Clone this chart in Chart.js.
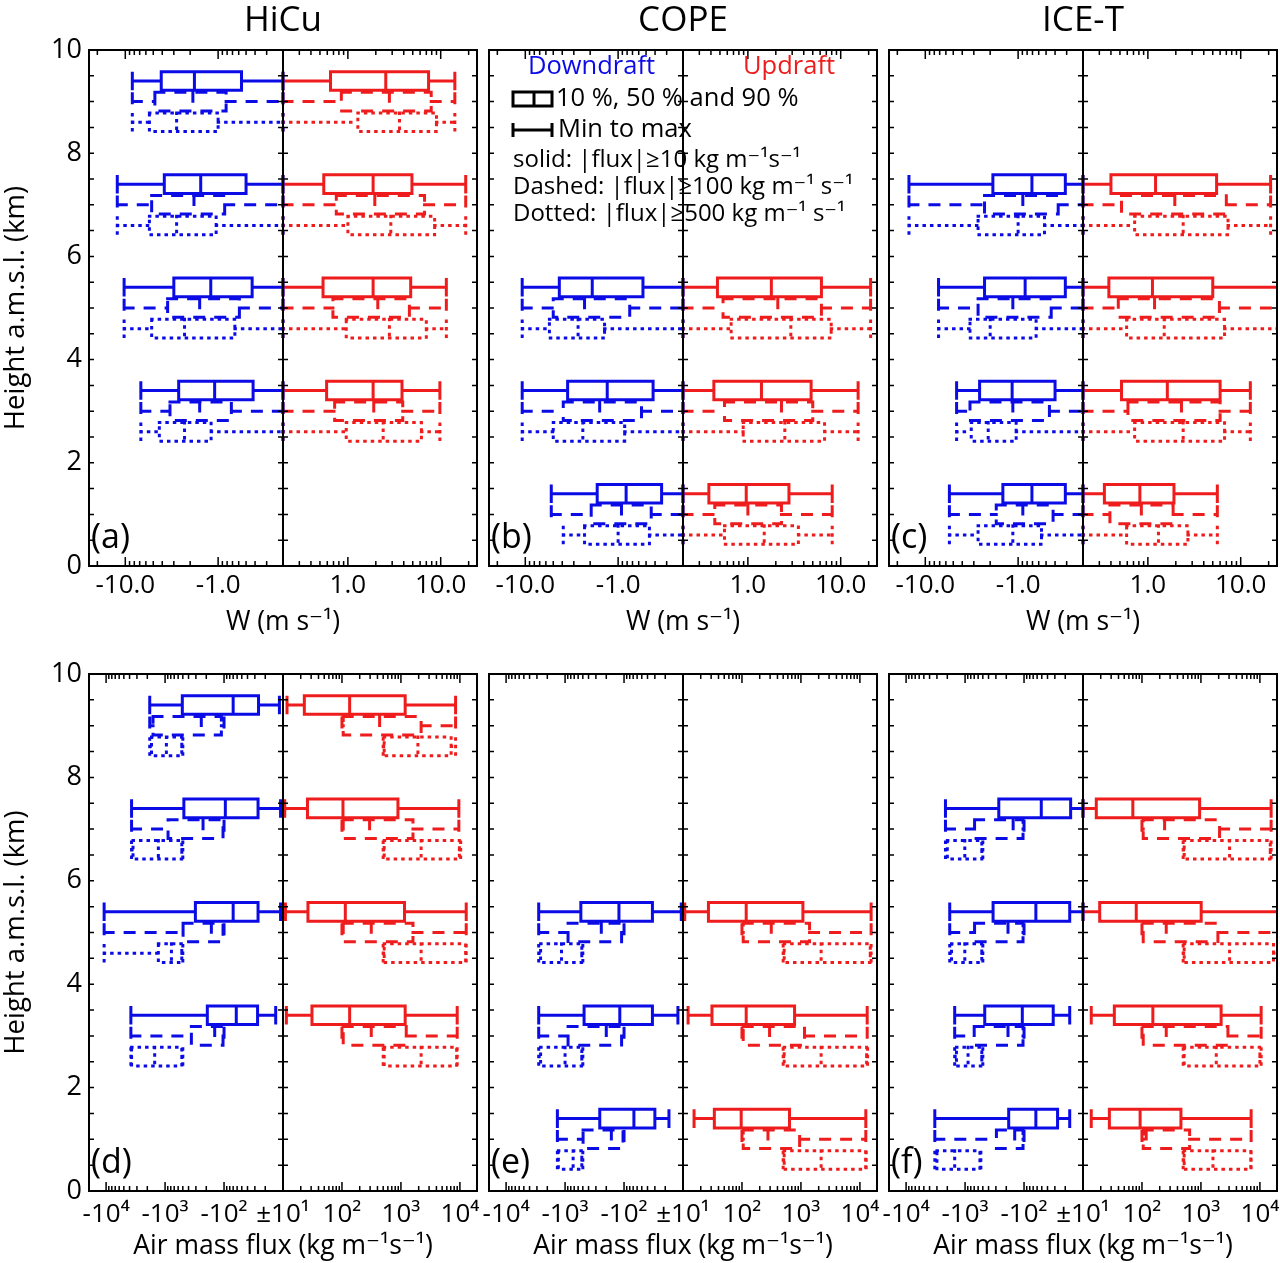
<!DOCTYPE html>
<html><head><meta charset="utf-8">
<script src="https://cdn.jsdelivr.net/npm/chart.js@4.4.1/dist/chart.umd.min.js"></script>
<style>
html,body{margin:0;padding:0;background:#fff;overflow:hidden}
#wrap{position:relative;width:1280px;height:1263px;overflow:hidden;background:#fff}
canvas{position:absolute}
</style></head><body><div id="wrap"></div>
<script>
// ---------------- DATA ----------------
const panelTitles = ['HiCu', 'COPE', 'ICE-T'];
const panelLetters = ['(a)', '(b)', '(c)', '(d)', '(e)', '(f)'];
const wTickValues = [-10, -1, 1, 10];
const wTickLabels = ['-10.0', '-1.0', '1.0', '10.0'];
const fluxTickValues = [-10000, -1000, -100, 10, 100, 1000, 10000];
const fluxTickLabels = ['-10⁴', '-10³', '-10²', '±10¹', '10²', '10³', '10⁴'];

const hicuLevels = [9, 7, 5, 3];
const copeLevels = [5, 3, 1];
const icetLevels = [7, 5, 3, 1];

// each row: [min, 10 %, 50 %, 90 %, max] for one level (W in m s-1)
const hicuW_dn_solid  = [[-8.4,-4.1,-1.8,-0.56,-0.2],[-12.2,-3.8,-1.54,-0.5,-0.2],[-10.3,-3.0,-1.2,-0.43,-0.2],[-6.8,-2.66,-1.09,-0.42,-0.2]];
const hicuW_up_solid  = [[0.2,0.65,2.56,7.4,14.2],[0.2,0.55,1.87,4.9,18.6],[0.2,0.54,1.87,4.75,11.5],[0.2,0.59,1.87,3.83,9.8]];
const hicuW_dn_dashed = [[-8.4,-4.8,-1.87,-0.82,-0.2],[-12.2,-5.2,-1.82,-0.85,-0.2],[-10.3,-3.5,-1.58,-0.59,-0.2],[-6.8,-3.3,-1.58,-0.72,-0.2]];
const hicuW_up_dashed = [[0.2,0.85,2.8,7.9,14.2],[0.2,0.75,1.95,6.7,18.6],[0.2,0.69,2.1,4.6,11.5],[0.2,0.72,1.9,3.9,9.8]];
const hicuW_dn_dotted = [[-8.4,-5.5,-2.8,-1.0,-0.2],[-12.2,-5.5,-2.8,-1.05,-0.2],[-10.3,-5.2,-2.3,-0.66,-0.2],[-6.8,-4.3,-2.3,-1.19,-0.2]];
const hicuW_up_dotted = [[0.2,1.28,3.6,9.0,14.2],[0.2,1.0,2.9,8.6,18.6],[0.2,0.96,2.8,7.0,11.5],[0.2,0.96,2.4,6.2,9.8]];

const copeW_dn_solid  = [[-10.8,-4.3,-1.9,-0.54,-0.2],[-10.8,-3.5,-1.31,-0.42,-0.2],[-5.25,-1.68,-0.82,-0.34,-0.2]];
const copeW_up_solid  = [[0.2,0.47,1.79,6.2,21],[0.2,0.43,1.4,4.8,15.4],[0.2,0.38,0.96,2.77,8.1]];
const copeW_dn_dashed = [[-10.8,-5.0,-2.3,-0.75,-0.2],[-10.8,-3.9,-1.58,-0.56,-0.2],[-5.25,-1.95,-0.92,-0.44,-0.2]];
const copeW_up_dashed = [[0.2,0.54,2.1,6.2,21],[0.2,0.56,2.3,5.0,15.4],[0.2,0.44,1.0,2.3,8.1]];
const copeW_dn_dotted = [[-10.8,-5.5,-2.7,-1.4,-0.2],[-10.8,-5.0,-2.4,-0.85,-0.2],[-3.9,-2.3,-1.0,-0.46,-0.2]];
const copeW_up_dotted = [[0.2,0.66,2.9,7.9,21],[0.2,0.89,2.5,6.7,15.4],[0.2,0.56,1.5,3.5,8.1]];

const icetW_dn_solid  = [[-15,-1.87,-0.71,-0.31,-0.2],[-7.2,-2.3,-0.84,-0.31,-0.2],[-4.6,-2.6,-1.16,-0.4,-0.2],[-5.5,-1.46,-0.71,-0.31,-0.2]];
const icetW_up_solid  = [[0.2,0.4,1.21,5.5,21],[0.2,0.38,1.12,5.0,26],[0.2,0.52,1.62,6.0,12.7],[0.2,0.34,0.82,1.91,5.6]];
const icetW_dn_dashed = [[-15,-2.3,-0.89,-0.37,-0.2],[-7.2,-2.7,-1.14,-0.44,-0.2],[-4.6,-3.3,-1.14,-0.46,-0.2],[-5.5,-1.72,-0.89,-0.42,-0.2]];
const icetW_up_dashed = [[0.2,0.52,1.95,7.0,21],[0.2,0.48,1.18,5.9,26],[0.2,0.61,2.3,6.0,12.7],[0.2,0.39,0.85,1.87,5.6]];
const icetW_dn_dotted = [[-15,-2.7,-1.0,-0.52,-0.2],[-7.2,-3.3,-2.0,-0.64,-0.2],[-4.6,-3.2,-2.1,-1.05,-0.2],[-5.5,-2.7,-1.14,-0.56,-0.2]];
const icetW_up_dotted = [[0.2,0.72,2.4,7.3,21],[0.2,0.59,1.5,6.7,26],[0.2,0.72,2.4,6.7,12.7],[0.2,0.59,1.3,2.7,5.6]];

// air mass flux in kg m-1 s-1
const hicuF_dn_solid  = [[-1820,-510,-70,-26,-11.5],[-3700,-480,-95,-26.5,-11],[-10800,-306,-70,-26.5,-11],[-3800,-192,-62,-27,-13.3]];
const hicuF_up_solid  = [[11.7,23,135,1180,8450],[10.7,26,104,890,9600],[11,26.5,114,1150,12800],[11.4,31,135,1180,9000]];
const hicuF_dn_dashed = [[-1820,-1600,-243,-111,-100],[-3700,-890,-227,-104,-100],[-10800,-495,-164,-104,-100],[-3800,-358,-144,-104,-100]];
const hicuF_up_dashed = [[100,105,435,2200,8450],[100,105,294,1600,9600],[100,105,314,1600,12800],[100,105,314,1230,9000]];
const hicuF_dn_dotted = [[-1820,-1700,-950,-520,-500],[-3700,-3500,-1300,-520,-500],[-10800,-1300,-780,-520,-500],[-3800,-3700,-1500,-520,-500]];
const hicuF_up_dotted = [[500,520,1940,7100,8450],[500,520,2200,9800,10300],[500,520,2200,12500,12800],[500,520,2200,8800,9000]];

const copeF_dn_solid  = [[-2800,-540,-122,-33,-10.7],[-2800,-476,-118,-33,-12.2],[-1350,-258,-68,-30,-17.3]];
const copeF_up_solid  = [[10.7,27,118,1080,15500],[12.2,31,118,780,13300],[15.4,34,97,640,12600]];
const copeF_dn_dashed = [[-2800,-890,-243,-110,-100],[-2800,-890,-200,-110,-100],[-1350,-495,-164,-104,-100]];
const copeF_up_dashed = [[100,105,314,1400,15500],[100,105,294,1150,13300],[100,105,276,950,12600]];
const copeF_dn_dotted = [[-2800,-2600,-1150,-520,-500],[-2800,-2600,-1000,-520,-500],[-1350,-1300,-730,-520,-500]];
const copeF_up_dotted = [[500,520,2200,15000,15500],[500,520,2200,13000,13500],[500,520,2200,12500,12800]];

const icetF_dn_solid  = [[-2150,-268,-51,-16.2,-10],[-1820,-335,-63,-16.8,-10],[-1500,-464,-107,-32,-16.8],[-3260,-182,-63,-27,-16.8]];
const icetF_up_solid  = [[10,16.8,70,950,15500],[10,19.2,80,1010,22000],[13.8,34,153,2200,10500],[13.8,28,93,458,7100]];
const icetF_dn_dashed = [[-2150,-690,-153,-104,-100],[-1820,-690,-187,-104,-100],[-1500,-700,-187,-104,-100],[-3260,-294,-144,-104,-100]];
const icetF_up_dashed = [[100,105,242,2070,15500],[100,105,258,1940,22000],[100,105,258,2870,10500],[100,105,118,643,7100]];
const icetF_dn_dotted = [[-2150,-2000,-1010,-520,-500],[-1820,-1700,-1010,-520,-500],[-1500,-1400,-890,-520,-500],[-3260,-3000,-1500,-560,-540]];
const icetF_up_dotted = [[500,520,3060,15000,15500],[500,520,3060,17000,22000],[500,520,1820,10000,10500],[500,520,1600,7000,7100]];

// ---------------- RENDERING ----------------
Chart.defaults.font.family = '"Open Sans", "DejaVu Sans", sans-serif';
Chart.defaults.color = '#000';

const DOWN_COLOR = '#0b0be6', UP_COLOR = '#ee1c1c';
const W_CUT = 0.2, W_SPAN = 2.09, F_CUT = 10, F_SPAN = 3.29;
const BOX_HALF = 0.18, CAP_HALF = 0.15;
const OFFSETS = { solid: 0.4, dashed: 0, dotted: -0.4 };
const DASHES = { solid: [], dashed: [9, 12], dotted: [0.5, 7] };
const FONT = '"Open Sans", "DejaVu Sans", sans-serif';

const symlog = cut => v => Math.sign(v) * Math.max(0, Math.log10(Math.abs(v) / cut));
const tW = symlog(W_CUT), tF = symlog(F_CUT);

function logTicks(tf, span, decades) {
  const major = [], minor = [];
  decades.forEach(n => {
    for (let k = 1; k <= 9; k++) {
      const t = tf(k * Math.pow(10, n));
      if (t > 0.02 && t < span) (k === 1 ? major : minor).push(t);
    }
  });
  return { major, minor };
}
const wMinorTicks = logTicks(tW, W_SPAN, [-1, 0, 1]);
const fMinorTicks = logTicks(tF, F_SPAN, [1, 2, 3, 4]);

function boxPoints(levels, stats, off, tf) {
  const pts = [];
  const brk = () => pts.push({ x: 0, y: null });
  levels.forEach((L, i) => {
    const s = stats[i];
    if (!s) return;
    const [mn, q1, md, q9, mx] = s.map(tf);
    const yc = L + off, yt = yc + BOX_HALF, yb = yc - BOX_HALF;
    pts.push({ x: mn, y: yc }, { x: q1, y: yc }); brk();
    pts.push({ x: q9, y: yc }, { x: mx, y: yc }); brk();
    pts.push({ x: q1, y: yt }, { x: q9, y: yt }, { x: q9, y: yb }, { x: q1, y: yb }, { x: q1, y: yt }); brk();
    pts.push({ x: md, y: yt }, { x: md, y: yb }); brk();
    pts.push({ x: mn, y: yc + CAP_HALF }, { x: mn, y: yc - CAP_HALF }); brk();
    pts.push({ x: mx, y: yc + CAP_HALF }, { x: mx, y: yc - CAP_HALF }); brk();
  });
  return pts;
}

const decor = {
  id: 'decor',
  afterDatasetsDraw(chart, args, o) {
    const { ctx, chartArea: a, scales: { x, y } } = chart;
    ctx.save();
    ctx.strokeStyle = '#000';
    ctx.lineWidth = 2;
    ctx.strokeRect(a.left, a.top, a.width, a.height);
    ctx.lineWidth = 1.5;
    ctx.beginPath();
    const x0 = x.getPixelForValue(0);
    for (let v = 0.5; v < 10; v += 0.5) {
      const py = y.getPixelForValue(v);
      ctx.moveTo(a.left, py); ctx.lineTo(a.left + 5, py);
      ctx.moveTo(a.right - 5, py); ctx.lineTo(a.right, py);
      ctx.moveTo(x0 - 5, py); ctx.lineTo(x0 + 5, py);
    }
    const tk = (t, len) => [t, -t].forEach(s => {
      const px = x.getPixelForValue(s);
      ctx.moveTo(px, a.top); ctx.lineTo(px, a.top + len);
      ctx.moveTo(px, a.bottom); ctx.lineTo(px, a.bottom - len);
    });
    o.ticks.major.forEach(t => tk(t, 9));
    o.ticks.minor.forEach(t => tk(t, 5));
    ctx.stroke();

    ctx.fillStyle = '#000';
    ctx.font = '34px ' + FONT;
    ctx.textBaseline = 'middle';
    ctx.textAlign = 'left';
    ctx.fillText(o.letter, a.left + 2, a.bottom - 28);

    if (o.legend) {
      const lx = a.left, ty = a.top;
      ctx.font = '25.5px ' + FONT;
      ctx.fillStyle = DOWN_COLOR; ctx.fillText('Downdraft', lx + 39, ty + 17);
      ctx.fillStyle = UP_COLOR; ctx.fillText('Updraft', lx + 254, ty + 17);
      ctx.fillStyle = '#000';
      ctx.lineWidth = 3;
      ctx.strokeRect(lx + 24, ty + 42, 39, 14);
      ctx.beginPath(); ctx.moveTo(lx + 45, ty + 42); ctx.lineTo(lx + 45, ty + 56); ctx.stroke();
      ctx.fillText('10 %, 50 % and 90 %', lx + 67, ty + 49);
      ctx.beginPath();
      ctx.moveTo(lx + 23, ty + 80); ctx.lineTo(lx + 64, ty + 80);
      ctx.moveTo(lx + 24, ty + 73); ctx.lineTo(lx + 24, ty + 87);
      ctx.moveTo(lx + 63, ty + 73); ctx.lineTo(lx + 63, ty + 87);
      ctx.stroke();
      ctx.fillText('Min to max', lx + 69, ty + 80);
      ctx.font = '24px ' + FONT;
      ctx.fillText('solid: |flux|≥10 kg m⁻¹s⁻¹', lx + 24, ty + 110);
      ctx.fillText('Dashed: |flux|≥100 kg m⁻¹ s⁻¹', lx + 24, ty + 137);
      ctx.fillText('Dotted: |flux|≥500 kg m⁻¹ s⁻¹', lx + 24, ty + 164);
    }
    ctx.restore();
  }
};

const wrap = document.getElementById('wrap');
function addCanvas(left, top, w, h) {
  const c = document.createElement('canvas');
  c.width = w; c.height = h;
  c.style.left = left + 'px'; c.style.top = top + 'px';
  c.style.width = w + 'px'; c.style.height = h + 'px';
  wrap.appendChild(c);
  return c;
}

function makePanel(p) {
  const canvas = addCanvas(p.left, p.top, 566, p.height);
  const datasets = [{
    data: [{ x: 0, y: 0 }, { x: 0, y: 10 }],
    borderColor: '#000', borderWidth: 2, showLine: true, pointRadius: 0
  }];
  p.sets.forEach(s => {
    datasets.push({
      data: boxPoints(p.levels, s.stats, OFFSETS[s.style], p.tf),
      borderColor: s.color, borderWidth: 3, borderDash: DASHES[s.style],
      borderCapStyle: 'square', borderJoinStyle: 'miter',
      showLine: true, pointRadius: 0, spanGaps: false, tension: 0
    });
  });
  const isTop = p.row === 'top';
  return new Chart(canvas, {
    type: 'scatter',
    data: { datasets },
    plugins: [decor],
    options: {
      responsive: false, animation: false, devicePixelRatio: 1, events: [],
      layout: { padding: { top: isTop ? 0 : 34, right: 0, bottom: 0, left: 0 } },
      plugins: {
        legend: { display: false }, tooltip: { enabled: false },
        title: { display: isTop, text: p.title, font: { size: 35, weight: 'normal' }, color: '#000', padding: { top: 0, bottom: 8 } },
        decor: { ticks: p.minorTicks, letter: p.letter, legend: !!p.legend }
      },
      scales: {
        x: {
          type: 'linear', min: -p.span, max: p.span,
          afterBuildTicks: s => { s.ticks = p.tickValues.map(v => ({ value: p.tf(v) })); },
          afterFit: s => { s.height = isTop ? 74 : 72; },
          ticks: { autoSkip: false, maxRotation: 0, minRotation: 0, padding: isTop ? 4 : 8, font: { size: 26 }, color: '#000',
                   callback: (v, i) => p.tickLabels[i] },
          grid: { display: false, drawTicks: false }, border: { display: false },
          title: { display: true, text: p.xTitle, font: { size: 26.5 }, color: '#000', padding: { top: 0, bottom: isTop ? 1.5 : 0.5 } }
        },
        y: {
          type: 'linear', min: 0, max: 10,
          afterFit: s => { s.width = 89; },
          ticks: { display: p.showY, stepSize: 2, padding: 7, font: { size: 27 }, color: '#000' },
          grid: { display: false, drawTicks: false }, border: { display: false },
          title: { display: p.showY, text: 'Height a.m.s.l. (km)', font: { size: 27.5 }, color: '#000', padding: { top: 0, bottom: 0 } }
        },
        yRight: {
          type: 'linear', position: 'right', min: 0, max: 10,
          afterFit: s => { s.width = 89; },
          ticks: { display: false }, grid: { display: false, drawTicks: false }, border: { display: false }
        }
      }
    }
  });
}

function sets(dnS, upS, dnD, upD, dnO, upO) {
  return [
    { stats: dnS, color: DOWN_COLOR, style: 'solid' }, { stats: upS, color: UP_COLOR, style: 'solid' },
    { stats: dnD, color: DOWN_COLOR, style: 'dashed' }, { stats: upD, color: UP_COLOR, style: 'dashed' },
    { stats: dnO, color: DOWN_COLOR, style: 'dotted' }, { stats: upO, color: UP_COLOR, style: 'dotted' }
  ];
}

const colLefts = [0, 400, 800];
const wCommon = { row: 'top', top: 0, height: 640, tf: tW, span: W_SPAN, tickValues: wTickValues, tickLabels: wTickLabels, minorTicks: wMinorTicks, xTitle: 'W (m s⁻¹)' };
const fCommon = { row: 'bottom', top: 640, height: 623, tf: tF, span: F_SPAN, tickValues: fluxTickValues, tickLabels: fluxTickLabels, minorTicks: fMinorTicks, xTitle: 'Air mass flux (kg m⁻¹s⁻¹)' };

makePanel(Object.assign({}, wCommon, { left: colLefts[0], title: panelTitles[0], letter: panelLetters[0], showY: true, levels: hicuLevels,
  sets: sets(hicuW_dn_solid, hicuW_up_solid, hicuW_dn_dashed, hicuW_up_dashed, hicuW_dn_dotted, hicuW_up_dotted) }));
makePanel(Object.assign({}, wCommon, { left: colLefts[1], title: panelTitles[1], letter: panelLetters[1], showY: false, levels: copeLevels, legend: true,
  sets: sets(copeW_dn_solid, copeW_up_solid, copeW_dn_dashed, copeW_up_dashed, copeW_dn_dotted, copeW_up_dotted) }));
makePanel(Object.assign({}, wCommon, { left: colLefts[2], title: panelTitles[2], letter: panelLetters[2], showY: false, levels: icetLevels,
  sets: sets(icetW_dn_solid, icetW_up_solid, icetW_dn_dashed, icetW_up_dashed, icetW_dn_dotted, icetW_up_dotted) }));
makePanel(Object.assign({}, fCommon, { left: colLefts[0], letter: panelLetters[3], showY: true, levels: hicuLevels,
  sets: sets(hicuF_dn_solid, hicuF_up_solid, hicuF_dn_dashed, hicuF_up_dashed, hicuF_dn_dotted, hicuF_up_dotted) }));
makePanel(Object.assign({}, fCommon, { left: colLefts[1], letter: panelLetters[4], showY: false, levels: copeLevels,
  sets: sets(copeF_dn_solid, copeF_up_solid, copeF_dn_dashed, copeF_up_dashed, copeF_dn_dotted, copeF_up_dotted) }));
makePanel(Object.assign({}, fCommon, { left: colLefts[2], letter: panelLetters[5], showY: false, levels: icetLevels,
  sets: sets(icetF_dn_solid, icetF_up_solid, icetF_dn_dashed, icetF_up_dashed, icetF_dn_dotted, icetF_up_dotted) }));
</script></body></html>
